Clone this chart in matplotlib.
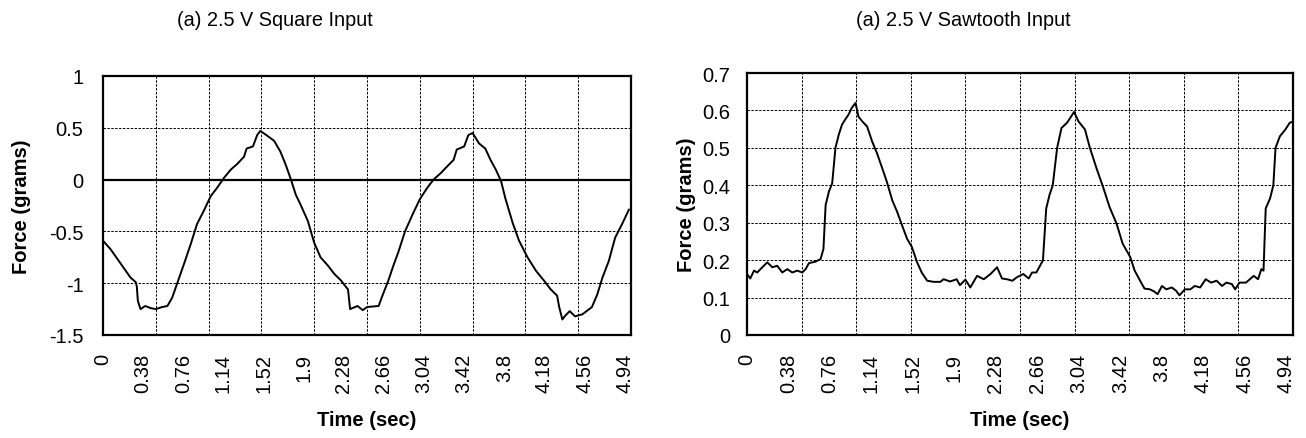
import numpy as np
import matplotlib
matplotlib.use('Agg')
import matplotlib.pyplot as plt

plt.rcParams['font.family'] = ['Liberation Sans', 'DejaVu Sans']

# square input trace (time in sec, force in grams)
sq_time = [0.0, 0.07, 0.16, 0.26, 0.31, 0.32, 0.33, 0.355, 0.40, 0.45, 0.50, 0.56, 0.61,
           0.655, 0.71, 0.765, 0.83, 0.89, 0.955, 1.02, 1.08, 1.145, 1.21, 1.27, 1.335,
           1.36, 1.42, 1.46, 1.49, 1.56, 1.62, 1.68, 1.73, 1.78, 1.825, 1.87, 1.94, 2.0,
           2.06, 2.13, 2.19, 2.25, 2.32, 2.34, 2.41, 2.46, 2.50, 2.61, 2.65, 2.70, 2.75,
           2.80, 2.86, 2.93, 3.0, 3.07, 3.13, 3.20, 3.26, 3.32, 3.35, 3.42, 3.46, 3.50,
           3.56, 3.62, 3.67, 3.72, 3.77, 3.81, 3.88, 3.94, 4.02, 4.10, 4.18, 4.24, 4.30,
           4.32, 4.35, 4.38, 4.42, 4.47, 4.54, 4.63, 4.68, 4.73, 4.79, 4.85, 4.92, 4.98]
sq_force = [-0.59, -0.67, -0.80, -0.945, -0.99, -1.03, -1.17, -1.25, -1.22, -1.24, -1.25,
            -1.23, -1.22, -1.14, -0.98, -0.82, -0.625, -0.43, -0.30, -0.16, -0.08, 0.016,
            0.096, 0.15, 0.22, 0.30, 0.32, 0.43, 0.47, 0.42, 0.375, 0.27, 0.144, 0.0,
            -0.144, -0.24, -0.40, -0.61, -0.75, -0.83, -0.91, -0.97, -1.06, -1.25, -1.22,
            -1.26, -1.23, -1.22, -1.11, -0.98, -0.83, -0.69, -0.50, -0.34, -0.19, -0.08,
            0.0, 0.064, 0.128, 0.19, 0.29, 0.32, 0.43, 0.45, 0.35, 0.30, 0.19, 0.096,
            -0.016, -0.18, -0.42, -0.59, -0.75, -0.88, -0.98, -1.06, -1.12, -1.23, -1.35,
            -1.31, -1.27, -1.32, -1.30, -1.23, -1.11, -0.945, -0.785, -0.56, -0.42, -0.29]

# sawtooth input trace
saw_time = [0.0, 0.03, 0.064, 0.094, 0.14, 0.186, 0.232, 0.277, 0.323, 0.369, 0.415, 0.46,
            0.506, 0.537, 0.567, 0.628, 0.674, 0.70, 0.72, 0.75, 0.78, 0.81, 0.84, 0.87,
            0.90, 0.93, 0.96, 0.994, 1.02, 1.055, 1.10, 1.146, 1.19, 1.238, 1.28, 1.33,
            1.375, 1.42, 1.466, 1.51, 1.558, 1.60, 1.65, 1.71, 1.77, 1.80, 1.86, 1.92, 1.95,
            2.0, 2.045, 2.107, 2.168, 2.23, 2.29, 2.335, 2.38, 2.43, 2.47, 2.53, 2.58, 2.61,
            2.65, 2.70, 2.71, 2.74, 2.77, 2.80, 2.84, 2.88, 2.93, 2.96, 2.995, 3.035, 3.095,
            3.14, 3.20, 3.26, 3.32, 3.385, 3.44, 3.51, 3.55, 3.60, 3.64, 3.69, 3.73, 3.76,
            3.80, 3.84, 3.89, 3.93, 3.96, 4.01, 4.06, 4.10, 4.15, 4.20, 4.25, 4.30, 4.35,
            4.39, 4.44, 4.47, 4.51, 4.57, 4.64, 4.68, 4.71, 4.73, 4.75, 4.79, 4.82, 4.84,
            4.88, 4.93, 4.97, 5.0]
saw_force = [0.163, 0.151, 0.172, 0.167, 0.181, 0.194, 0.181, 0.185, 0.167, 0.176, 0.167,
             0.172, 0.167, 0.176, 0.192, 0.196, 0.203, 0.23, 0.347, 0.383, 0.405, 0.50,
             0.535, 0.562, 0.576, 0.589, 0.607, 0.62, 0.584, 0.571, 0.557, 0.517, 0.486,
             0.446, 0.41, 0.36, 0.329, 0.293, 0.257, 0.235, 0.194, 0.167, 0.145, 0.142,
             0.142, 0.149, 0.143, 0.149, 0.133, 0.148, 0.127, 0.158, 0.149, 0.163, 0.181,
             0.151, 0.149, 0.145, 0.154, 0.163, 0.151, 0.167, 0.167, 0.194, 0.199, 0.338,
             0.374, 0.40, 0.50, 0.553, 0.567, 0.58, 0.596, 0.571, 0.549, 0.50, 0.446, 0.396,
             0.342, 0.297, 0.244, 0.208, 0.172, 0.145, 0.124, 0.122, 0.116, 0.109, 0.131,
             0.122, 0.127, 0.118, 0.106, 0.122, 0.122, 0.131, 0.127, 0.149, 0.14, 0.145,
             0.131, 0.14, 0.136, 0.122, 0.14, 0.14, 0.158, 0.149, 0.176, 0.172, 0.338,
             0.365, 0.40, 0.50, 0.531, 0.549, 0.567, 0.57]

tick_labels = ['0', '0.38', '0.76', '1.14', '1.52', '1.9', '2.28', '2.66', '3.04',
               '3.42', '3.8', '4.18', '4.56', '4.94']

W, H = 1306, 439
fig = plt.figure(figsize=(W / 100, H / 100), dpi=100)

ax1 = fig.add_axes([103 / W, (H - 336) / H, 528 / W, 259 / H])
ax2 = fig.add_axes([747 / W, (H - 336) / H, 546 / W, 262 / H])

FS = 14.5


def style(ax, ylim, ystep, ypad):
    ax.set_xlim(0, 5.0)
    ax.set_ylim(*ylim)
    yt = np.arange(ylim[0], ylim[1] + ystep / 2, ystep)
    ax.set_yticks(yt)
    ax.set_xticks([float(s) for s in tick_labels])
    ax.set_xticklabels(tick_labels, rotation=90, fontsize=FS)
    ax.tick_params(axis='x', length=0, pad=13)
    ax.tick_params(axis='y', length=0, pad=ypad, labelsize=FS)
    # grid every 0.5 sec and every y step
    for gx in np.arange(0.5, 5.0, 0.5):
        ax.axvline(gx, color='black', lw=0.7, ls=(0, (2.5, 1.5)), zorder=1)
    for gy in yt[1:-1]:
        ax.axhline(gy, color='black', lw=0.7, ls=(0, (2.5, 1.5)), zorder=1)
    for sp in ax.spines.values():
        sp.set_linewidth(1.6)


style(ax1, (-1.5, 1.0), 0.5, 14)
ax1.set_yticklabels(['-1.5', '-1', '-0.5', '0', '0.5', '1'])
ax1.axhline(0, color='black', lw=1.6, zorder=2)
ax1.plot(sq_time, sq_force, color='black', lw=1.4, zorder=3)

style(ax2, (0.0, 0.7), 0.1, 12)
ax2.set_yticklabels(['0', '0.1', '0.2', '0.3', '0.4', '0.5', '0.6', '0.7'])
ax2.plot(saw_time, saw_force, color='black', lw=1.4, zorder=3)

fig.text(275 / W, 1 - 20 / H, '(a) 2.5 V Square Input', ha='center', va='center', fontsize=14.3)
fig.text(963 / W, 1 - 20 / H, '(a) 2.5 V Sawtooth Input', ha='center', va='center', fontsize=14.3)
fig.text(367 / W, 1 - 421 / H, 'Time (sec)', ha='center', va='center', fontsize=FS, weight='bold')
fig.text(1020 / W, 1 - 421 / H, 'Time (sec)', ha='center', va='center', fontsize=FS, weight='bold')
fig.text(22 / W, 1 - 207 / H, 'Force (grams)', ha='center', va='center', rotation=90,
         fontsize=FS, weight='bold')
fig.text(686 / W, 1 - 205 / H, 'Force (grams)', ha='center', va='center', rotation=90,
         fontsize=FS, weight='bold')

fig.savefig('out.png', dpi=100)
